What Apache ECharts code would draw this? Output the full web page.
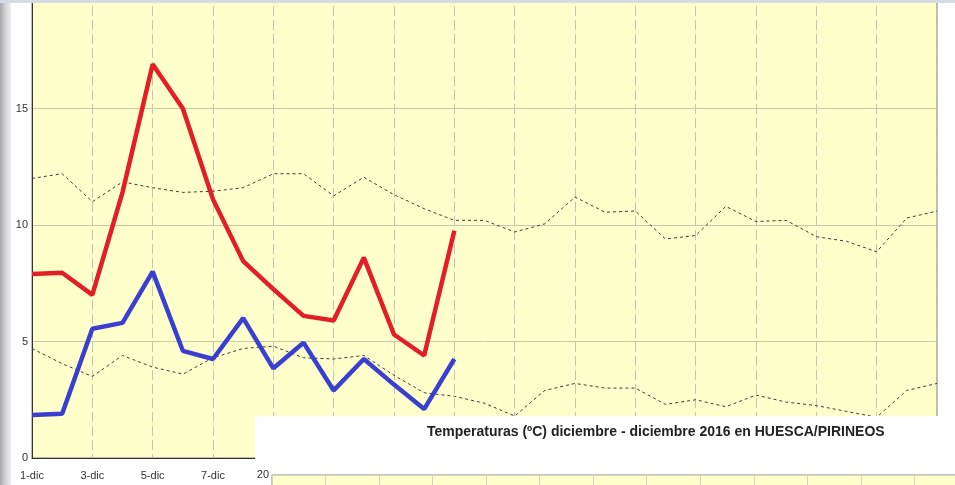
<!DOCTYPE html>
<html>
<head>
<meta charset="utf-8">
<script src="https://cdn.jsdelivr.net/npm/echarts@6/dist/echarts.min.js"></script>
<style>
  html, body { margin: 0; padding: 0; background: #fff; }
  #chart { width: 955px; height: 485px; }
</style>
</head>
<body>
<div id="chart"></div>
<script>
// dias de diciembre
var days = ['1-dic', '2-dic', '3-dic', '4-dic', '5-dic', '6-dic', '7-dic', '8-dic', '9-dic', '10-dic',
  '11-dic', '12-dic', '13-dic', '14-dic', '15-dic', '16-dic', '17-dic', '18-dic', '19-dic', '20-dic',
  '21-dic', '22-dic', '23-dic', '24-dic', '25-dic', '26-dic', '27-dic', '28-dic', '29-dic', '30-dic', '31-dic'];

// maxima / minima 2016 (hasta el dia 15)
var maxTemp = [7.9, 7.95, 7.0, 11.4, 16.9, 15.0, 11.1, 8.45, 7.25, 6.1, 5.9, 8.6, 5.3, 4.4, 9.75];
var minTemp = [1.85, 1.9, 5.55, 5.8, 8.0, 4.6, 4.25, 6.0, 3.85, 4.95, 2.9, 4.25, 3.15, 2.1, 4.25];

// medias historicas (punteadas)
var avgMax = [12.0, 12.2, 11.0, 11.85, 11.6, 11.4, 11.45, 11.6, 12.2, 12.2, 11.25, 12.05, 11.3, 10.7, 10.2,
  10.2, 9.7, 10.05, 11.2, 10.55, 10.6, 9.4, 9.55, 10.8, 10.15, 10.2, 9.5, 9.3, 8.85, 10.3, 10.6];
var avgMin = [4.7, 4.05, 3.5, 4.4, 3.9, 3.6, 4.3, 4.7, 4.8, 4.3, 4.25, 4.4, 3.55, 2.8, 2.65,
  2.35, 1.8, 2.9, 3.2, 3.0, 3.0, 2.3, 2.5, 2.2, 2.7, 2.4, 2.25, 2.0, 1.75, 2.9, 3.2];

var yTicks = { min: 0, max: 20, interval: 5 };
var titulo = 'Temperaturas (ºC) diciembre - diciembre 2016 en HUESCA/PIRINEOS';

var myChart = echarts.init(document.getElementById('chart'));

var dotted = {
  type: 'line',
  showSymbol: false,
  silent: true,
  lineStyle: { color: '#3a3a3a', width: 1, type: [3, 3] }
};

const option = {
  animation: false,
  backgroundColor: '#ffffff',
  textStyle: { fontFamily: 'Liberation Sans, Arial, sans-serif' },
  title: {
    text: titulo,
    left: 422,
    top: 420,
    textStyle: { fontSize: 14, fontWeight: 'bold', color: '#222' }
  },
  grid: [
    {
      left: 32, right: 18, top: -8, bottom: 27,
      outerBoundsMode: 'none',
      show: true,
      backgroundColor: '#ffffcc',
      borderColor: '#7a7a7a',
      borderWidth: 1
    },
    {
      // grafico de abajo (panel blanco)
      left: 272, right: -120, top: 475, bottom: -200,
      outerBoundsMode: 'none',
      show: true,
      z: 10,
      backgroundColor: '#ffffcc',
      borderColor: '#8a8a8a',
      borderWidth: 1
    }
  ],
  xAxis: [
    {
      type: 'category',
      data: days,
      boundaryGap: false,
      axisLine: { lineStyle: { color: '#333', width: 1 } },
      axisTick: { show: false },
      axisLabel: { interval: 1, fontSize: 11, color: '#333', margin: 12 },
      splitLine: { show: true, interval: 1, lineStyle: { color: '#c4c4b4', type: [10, 4] } }
    },
    {
      gridIndex: 1,
      type: 'category',
      data: days,
      boundaryGap: false,
      z: 10,
      axisLine: { show: false },
      axisTick: { show: false },
      axisLabel: { show: false },
      splitLine: { show: true, interval: 1, lineStyle: { color: '#d4d4c0' } }
    }
  ],
  yAxis: [
    {
      type: 'value',
      min: yTicks.min, max: yTicks.max, interval: yTicks.interval,
      axisLine: { show: true, lineStyle: { color: '#333', width: 1 } },
      axisTick: { show: false },
      axisLabel: { fontSize: 11, color: '#333', margin: 4 },
      splitLine: { lineStyle: { color: '#c8c8a8' } }
    },
    {
      gridIndex: 1,
      type: 'value',
      min: yTicks.min, max: yTicks.max, interval: yTicks.interval,
      z: 10,
      axisLine: { show: false },
      axisTick: { show: false },
      axisLabel: { fontSize: 11, color: '#333', margin: 3 },
      splitLine: { lineStyle: { color: '#d4d4c0' } }
    }
  ],
  series: [
    Object.assign({ name: 'Media max', data: avgMax }, dotted),
    Object.assign({ name: 'Media min', data: avgMin }, dotted),
    {
      name: 'Maxima',
      type: 'line',
      data: maxTemp,
      showSymbol: false,
      z: 3,
      lineStyle: { color: '#e41e26', width: 4.5 }
    },
    {
      name: 'Minima',
      type: 'line',
      data: minTemp,
      showSymbol: false,
      z: 3,
      lineStyle: { color: '#3a3fd0', width: 4.5 }
    }
  ],
  graphic: [
    // panel blanco que tapa la parte de abajo
    { type: 'rect', z: 5, silent: true, shape: { x: 255, y: 416, width: 700, height: 69 }, style: { fill: '#ffffff' } },
    // borde de ventana a la izquierda y arriba
    {
      type: 'rect', z: 5, silent: true, shape: { x: 0, y: 0, width: 11, height: 485 },
      style: {
        fill: new echarts.graphic.LinearGradient(0, 0, 1, 0, [
          { offset: 0, color: '#a9a9ab' },
          { offset: 0.5, color: '#d2d3d6' },
          { offset: 1, color: '#eeeef0' }
        ])
      }
    },
    { type: 'rect', z: 5, silent: true, shape: { x: 0, y: 0, width: 955, height: 3 }, style: { fill: '#d6dae3' } }
  ]
};

myChart.setOption(option);
</script>
</body>
</html>
